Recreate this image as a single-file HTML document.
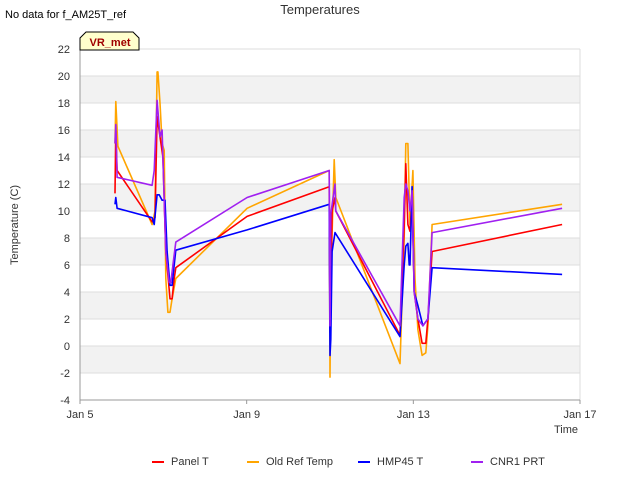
<!DOCTYPE html>
<html><head><meta charset="utf-8"><style>
body{margin:0;background:#fff;font-family:"Liberation Sans",sans-serif;}
svg text{font-family:"Liberation Sans",sans-serif;}
</style></head><body>
<svg width="640" height="480" viewBox="0 0 640 480">
<rect width="640" height="480" fill="#fff"/>
<g id="bands"></g>
<g id="grid"></g>
<g id="axes"></g>
<g id="series"></g>
<text x="5" y="18" font-size="11" fill="#000">No data for f_AM25T_ref</text>
<text x="320" y="14" font-size="13" fill="#333" text-anchor="middle">Temperatures</text>
<g>
<path d="M80,50 L80,38 L86,32 L133,32 L139,38 L139,50 Z" fill="#ffffcc" stroke="#000" stroke-width="1"/>
<text x="110" y="46" font-size="11" font-weight="bold" fill="#a00000" text-anchor="middle">VR_met</text>
</g>
<text x="18" y="225" font-size="11" fill="#333" text-anchor="middle" transform="rotate(-90 18 225)">Temperature (C)</text>
<text x="578" y="433" font-size="11" fill="#333" text-anchor="end">Time</text>
<g id="legend"></g>
</svg>
<script>
const xTickLabels=["Jan 5","Jan 9","Jan 13","Jan 17"];
const xTickDays=[0,4,8,12];
const yTicks=[-4,-2,0,2,4,6,8,10,12,14,16,18,20,22];
const seriesNames=["Panel T","Old Ref Temp","HMP45 T","CNR1 PRT"];
const seriesColors=["#ff0000","#ffa500","#0000ff","#a020f0"];
const panelDays=[0.84,0.86,0.89,1.73,1.80,1.85,1.92,1.99,2.06,2.16,2.21,2.26,2.30,4.01,5.98,6.00,6.05,6.12,6.14,7.68,7.78,7.82,7.87,7.92,7.97,8.02,8.11,8.21,8.30,8.35,8.45,11.57];
const panelVals=[11.3,16,13,9.2,9.5,17,15.5,14,7,3.5,3.5,5,5.8,9.6,11.8,1,10,11,10,0.8,9,13.5,9,8.5,11,4,2,0.2,0.2,2,7,9];
const oldRefDays=[0.84,0.86,0.91,1.73,1.80,1.85,1.87,1.92,1.97,2.02,2.06,2.11,2.16,2.21,2.30,4.01,5.98,6.00,6.02,6.10,6.14,7.68,7.78,7.82,7.87,7.92,7.99,8.04,8.11,8.21,8.30,8.35,8.45,11.57];
const oldRefVals=[15,18.1,14.8,9,10,20.3,20.3,18,15,14.5,5,2.5,2.5,3.5,5,10.2,13,-2.3,5,13.8,11,-1.3,8,15,15,9,13,5,1.2,-0.7,-0.5,1.5,9,10.5];
const hmpDays=[0.84,0.86,0.89,1.73,1.78,1.85,1.90,1.97,2.04,2.09,2.16,2.21,2.26,2.30,4.01,5.98,6.00,6.02,6.05,6.12,7.68,7.78,7.82,7.87,7.90,7.92,7.97,8.02,8.11,8.23,8.30,8.35,8.45,11.57];
const hmpVals=[10.5,11,10.2,9.5,9,11.2,11.2,10.8,10.8,7,4.5,4.5,6,7.1,8.6,10.5,-0.7,0.5,7,8.4,0.7,6,7.4,7.6,6,6,11.8,4,3,1.5,1.8,2,5.8,5.3];
const cnrDays=[0.84,0.86,0.89,1.73,1.78,1.85,1.92,1.97,1.99,2.06,2.14,2.18,2.23,2.30,4.01,5.98,6.00,6.02,6.12,6.14,7.68,7.78,7.82,7.87,7.92,7.97,8.02,8.11,8.23,8.30,8.35,8.45,11.57];
const cnrVals=[15,16.4,12.5,11.9,13,18.2,15.5,16,14,7,4.7,4.7,6,7.7,11,13,1.5,9.8,12,10,1.5,11,12,11.5,10,11.5,4,2,1.5,1.8,2,8.4,10.2];

const NS="http://www.w3.org/2000/svg";
const X0=80,X1=580,Y0=400,Y1=49;
const xs=d=>X0+(d/12)*(X1-X0);
const ys=v=>Y0-(v+4)/26*(Y0-Y1);
function mk(tag,attrs,parent){const e=document.createElementNS(NS,tag);for(const k in attrs)e.setAttribute(k,attrs[k]);parent.appendChild(e);return e;}
const bands=document.getElementById('bands'),grid=document.getElementById('grid'),axes=document.getElementById('axes'),ser=document.getElementById('series'),leg=document.getElementById('legend');
for(let v=0;v<=20;v+=4){
 const r=mk('rect',{x:X0,y:ys(v),width:X1-X0,height:ys(v-2)-ys(v),fill:'#f2f2f2'},bands);
 
 
}
yTicks.forEach(v=>{
 const l=mk('line',{x1:X0,x2:X1,y1:ys(v),y2:ys(v),stroke:'#dddddd','stroke-width':1},grid);
 
 
 const t=mk('text',{x:X0-10,y:ys(v)+4,'font-size':11,fill:'#333','text-anchor':'end'},axes);
 t.textContent=v;
 
 
});
mk('line',{x1:X1,x2:X1,y1:Y1,y2:Y0,stroke:'#dddddd'},axes);
mk('line',{x1:X0,x2:X0,y1:Y1,y2:Y0,stroke:'#999'},axes);
mk('line',{x1:X0,x2:X1,y1:Y0,y2:Y0,stroke:'#999'},axes);
xTickDays.forEach((d,i)=>{
 mk('line',{x1:xs(d),x2:xs(d),y1:Y0,y2:Y0+4,stroke:'#999'},axes);
 const t=mk('text',{x:xs(d),y:Y0+18,'font-size':11,fill:'#333','text-anchor':'middle'},axes);
 t.textContent=xTickLabels[i];
 
 
});
const allDays=[panelDays,oldRefDays,hmpDays,cnrDays],allVals=[panelVals,oldRefVals,hmpVals,cnrVals];
const order=[1,0,2,3];
order.forEach(i=>{
 const pts=allDays[i].map((d,j)=>xs(d).toFixed(1)+','+ys(allVals[i][j]).toFixed(1)).join(' ');
 const p=mk('polyline',{points:pts,fill:'none',stroke:seriesColors[i],'stroke-width':1.6,'stroke-linejoin':'round'},ser);
 
 
});
const legX=[152,247,358,471];
seriesNames.forEach((n,i)=>{
 const g=mk('g',{},leg);
 
 
 mk('line',{x1:legX[i],x2:legX[i]+12,y1:462,y2:462,stroke:seriesColors[i],'stroke-width':2},g);
 const t=mk('text',{x:legX[i]+19,y:465,'font-size':11,fill:'#333'},g);
 t.textContent=n;
});
</script>
</body></html>
